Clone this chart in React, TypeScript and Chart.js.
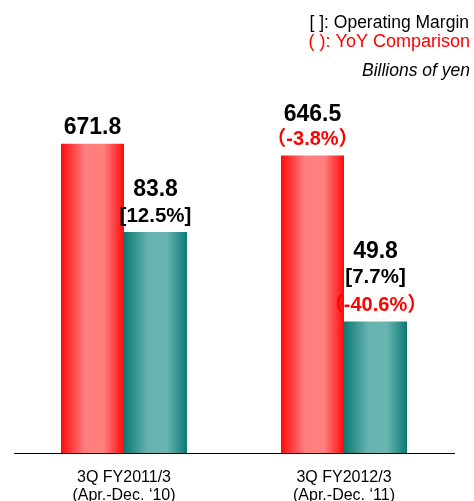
import React, { useEffect, useRef } from "react";
import { Chart, registerables } from "chart.js";

Chart.register(...registerables);

// ---- data ----
const categories = [
  ["3Q FY2011/3", "(Apr.-Dec. \u201810)"],
  ["3Q FY2012/3", "(Apr.-Dec. \u201811)"],
];
const netSales = [671.8, 646.5];
const operatingIncome = [83.8, 49.8];
const operatingMargin = ["12.5%", "7.7%"];
const salesYoY: (string | null)[] = [null, "-3.8%"];
const incomeYoY: (string | null)[] = [null, "-40.6%"];
const headerLines = ["[ ]: Operating Margin", "( ): YoY Comparison", "Billions of yen"];

// ---- styles ----
const FONT = '"Liberation Sans", Arial, "Noto Sans CJK JP", sans-serif';
const RED = "#ff0000";
const CAT_PCT = 0.573;
const redStops = ["#ff0a0a", "#ff7e7e", "#ff8080", "#ff0a0a"];
const tealStops = ["#0b7873", "#66b3b0", "#68b5b2", "#0b7873"];

function barGradient(ctx: any, stops: string[]) {
  const chart = ctx.chart;
  const area = chart.chartArea;
  const xs = chart.scales && chart.scales.x;
  if (ctx.type !== "data" || !area || !xs) return stops[1];
  const center = xs.getPixelForValue(ctx.dataIndex);
  const catW = (area.right - area.left) / categories.length;
  const barW = (catW * CAT_PCT) / 2;
  const left = center - barW + ctx.datasetIndex * barW;
  const g = chart.ctx.createLinearGradient(left, 0, left + barW, 0);
  g.addColorStop(0, stops[0]);
  g.addColorStop(0.38, stops[1]);
  g.addColorStop(0.68, stops[2]);
  g.addColorStop(1, stops[3]);
  return g;
}

type Line = { text: string; kind: "value" | "margin" | "yoy" };

const fontFor = (kind: string) =>
  kind === "value" ? `bold 23px ${FONT}` : kind === "margin" ? `bold 20.5px ${FONT}` : `bold 20px ${FONT}`;

const gapBetween = (upper: string, lower: string) => {
  if (upper === "margin" && lower === "yoy") return 28;
  if (upper === "value" && lower === "yoy") return 24.5;
  return 26;
};

const labelPlugin = {
  id: "barLabels",
  afterDatasetsDraw(chart: any) {
    const c = chart.ctx;
    c.save();
    c.textAlign = "center";
    c.textBaseline = "middle";
    chart.data.datasets.forEach((_ds: any, di: number) => {
      const meta = chart.getDatasetMeta(di);
      meta.data.forEach((el: any, i: number) => {
        const lines: Line[] = [];
        if (di === 0) {
          lines.push({ text: netSales[i].toFixed(1), kind: "value" });
          if (salesYoY[i]) lines.push({ text: `\uff08${salesYoY[i]}\uff09`, kind: "yoy" });
        } else {
          lines.push({ text: operatingIncome[i].toFixed(1), kind: "value" });
          lines.push({ text: `[${operatingMargin[i]}]`, kind: "margin" });
          if (incomeYoY[i]) lines.push({ text: `\uff08${incomeYoY[i]}\uff09`, kind: "yoy" });
        }
        let y = el.y - 16;
        for (let k = lines.length - 1; k >= 0; k--) {
          const ln = lines[k];
          c.font = fontFor(ln.kind);
          c.fillStyle = ln.kind === "yoy" ? RED : "#000";
          c.fillText(ln.text, el.x, y);
          if (k > 0) y -= gapBetween(lines[k - 1].kind, ln.kind);
        }
      });
    });
    c.restore();
  },
};

const headerPlugin = {
  id: "header",
  afterDraw(chart: any) {
    const c = chart.ctx;
    c.save();
    c.textAlign = "right";
    c.textBaseline = "alphabetic";
    c.font = `17.5px ${FONT}`;
    c.fillStyle = "#000";
    c.fillText(headerLines[0], 469, 28);
    c.fillStyle = RED;
    c.font = `18px ${FONT}`;
    c.fillText(headerLines[1], 470, 47);
    c.font = `italic 17.5px ${FONT}`;
    c.fillStyle = "#000";
    c.fillText(headerLines[2], 470, 76);
    c.restore();
  },
};

export default function App() {
  const ref = useRef<HTMLCanvasElement | null>(null);
  useEffect(() => {
    if (!ref.current) return;
    const chart = new Chart(ref.current, {
      type: "bar",
      data: {
        labels: categories as any,
        datasets: [
          {
            label: "Net Sales",
            data: netSales,
            yAxisID: "y",
            backgroundColor: (ctx: any) => barGradient(ctx, redStops),
            borderWidth: 0,
            barPercentage: 1,
            categoryPercentage: CAT_PCT,
          },
          {
            label: "Operating Income",
            data: operatingIncome,
            yAxisID: "y1",
            backgroundColor: (ctx: any) => barGradient(ctx, tealStops),
            borderWidth: 0,
            barPercentage: 1,
            categoryPercentage: CAT_PCT,
          },
        ],
      },
      options: {
        responsive: false,
        animation: false,
        devicePixelRatio: 1,
        layout: { padding: { left: 14, right: 20, top: 100, bottom: 0 } },
        plugins: {
          legend: { display: false },
          tooltip: { enabled: false },
          title: { display: false },
        },
        scales: {
          x: {
            grid: { display: false, drawTicks: false },
            border: { display: true, color: "#000", width: 1 },
            ticks: {
              color: "#000",
              padding: 16,
              font: { family: FONT, size: 16, lineHeight: 18 / 16 },
              maxRotation: 0,
              autoSkip: false,
            },
          },
          y: { display: false, min: 0, max: 767 },
          y1: { display: false, min: 0, max: 133.8 },
        },
      },
      plugins: [labelPlugin, headerPlugin],
    });
    return () => chart.destroy();
  }, []);
  return (
    <div
      style={{
        position: "fixed",
        left: 0,
        top: 0,
        width: 474,
        height: 501,
        overflow: "hidden",
        background: "#fff",
      }}
    >
      <canvas ref={ref} width={474} height={521} style={{ display: "block" }} />
    </div>
  );
}
